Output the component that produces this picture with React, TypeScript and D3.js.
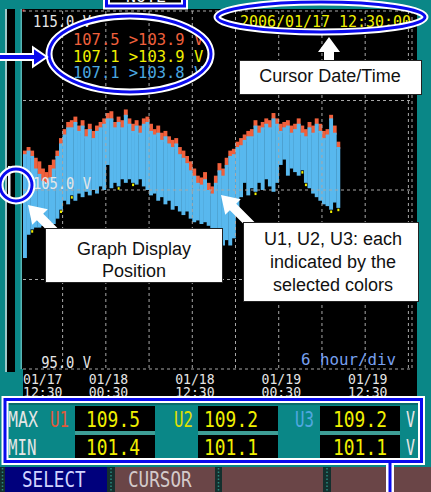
import React from 'react';
import * as d3 from 'd3';

// ---------- data ----------
const START = new Date(2006, 0, 17, 12, 30);
const END = new Date(2006, 0, 19, 18, 30);
const STEP_MINUTES = 30;
const V_MIN = 95;
const V_MAX = 115;

// U1 (red) maximum per 30-minute interval, V
const u1Max = [
  107.2, 107.4, 107.2, 106.8, 106.6, 106.2, 106.0, 106.4, 106.7, 107.2,
  107.9, 108.4, 108.8, 108.9, 109.1, 108.6, 108.9, 108.4, 108.7, 108.3,
  108.6, 108.8, 109.0, 109.3, 109.4, 108.8, 109.1, 108.9, 109.5, 109.0,
  108.7, 108.9, 108.6, 109.0, 109.1, 108.7, 108.4, 108.6, 108.2, 108.3,
  108.0, 107.8, 107.9, 107.4, 107.2, 106.9, 106.6, 106.2, 105.8, 105.7,
  106.0, 105.4, 105.2, 105.8, 106.5, 106.2, 106.8, 107.2, 107.3, 107.7,
  107.9, 108.1, 108.3, 108.4, 108.9, 108.6, 108.8, 109.0, 108.9, 109.3,
  109.0, 108.7, 108.8, 108.9, 108.6, 108.7, 109.0, 108.6, 108.4, 108.8,
  108.6, 109.0, 108.7, 108.3, 108.4, 109.2, 108.6, 107.7,
];

// U3 (blue) maximum per interval, V
const u3Max = [
  107.0, 107.2, 106.9, 106.2, 105.9, 105.5, 105.4, 105.7, 106.2, 106.9,
  107.6, 108.1, 108.5, 108.5, 108.8, 108.3, 108.6, 108.0, 108.4, 107.9,
  108.3, 108.5, 108.7, 109.0, 109.0, 108.5, 108.8, 108.5, 109.2, 108.7,
  108.3, 108.6, 108.2, 108.7, 108.8, 108.3, 108.1, 108.2, 107.8, 108.0,
  107.6, 107.4, 107.6, 107.0, 106.8, 106.5, 106.1, 105.8, 105.4, 105.3,
  105.6, 105.0, 104.8, 105.4, 106.1, 105.8, 106.4, 106.9, 107.0, 107.4,
  107.5, 107.8, 108.0, 108.0, 108.6, 108.2, 108.5, 108.7, 108.5, 109.0,
  108.7, 108.3, 108.5, 108.6, 108.2, 108.4, 108.7, 108.2, 108.0, 108.5,
  108.2, 108.7, 108.3, 107.9, 108.1, 109.0, 108.2, 107.4,
];

// U3 (blue) minimum per interval, V
const u3Min = [
  101.2, 102.5, 102.8, 102.9, 102.9, 103.0, 102.9, 103.2, 103.1, 103.4,
  103.9, 104.4, 104.2, 104.7, 104.4, 104.8, 104.6, 104.9, 104.7, 105.0,
  104.8, 105.2, 105.0, 106.4, 105.1, 105.4, 105.2, 105.6, 105.4, 105.6,
  105.4, 105.3, 105.6, 105.2, 105.0, 104.7, 104.8, 104.4, 104.6, 104.2,
  104.4, 103.9, 104.1, 103.8, 103.6, 103.8, 103.4, 103.2, 103.3, 103.1,
  103.2, 103.0, 102.8, 102.3, 102.1, 101.9, 102.2, 101.9, 102.3, 103.6,
  104.6, 105.4, 104.7, 105.1, 104.9, 105.4, 105.0, 105.6, 105.2, 104.9,
  105.4, 106.4, 106.7, 105.8, 106.2, 106.0, 105.8, 106.1, 105.4, 105.1,
  104.8, 104.6, 104.4, 104.2, 104.1, 103.9, 104.3, 104.0,
];

// U2 (yellow) minima visible below the blue band: [interval index, V]
const u2Dots: [number, number][] = [
  [2, 102.7], [10, 103.8], [13, 104.6], [26, 105.1], [30, 105.3],
  [52, 102.7], [64, 104.8], [77, 106.0], [78, 105.3], [85, 103.8], [87, 103.9],
];

const yGridValues = [100, 105, 110];
const yLabelValues = [115, 105, 95];
const yLabels = ['115.0 V', '105.0 V', '95.0 V'];
const xLabelHours = [0, 12, 24, 36, 48];
const xLabels = [
  ['01/17', '12:30'],
  ['01/18', '00:30'],
  ['01/18', '12:30'],
  ['01/19', '00:30'],
  ['01/19', '12:30'],
];
const readoutTexts = ['107.5 >103.9 V', '107.1 >103.9 V', '107.1 >103.8 V'];
const cursorText = '2006/01/17 12:30:00';
const scaleText = '6 hour/div';
const channels = ['U1', 'U2', 'U3'];
const maxValues = ['109.5', '109.2', '109.2'];
const minValues = ['101.4', '101.1', '101.1'];
const buttonLabels = ['SELECT', 'CURSOR', '', ''];

// ---------- styles ----------
const TEAL = '#0a8787';
const C_RED = '#f0603c';
const C_YEL = '#f0f000';
const C_BLUE = '#58b8ee';
const C_WHITE = '#e6e6e6';
const MONO = 'DejaVu Sans Mono';
const SANS = 'Liberation Sans, Arial, sans-serif';

function Mono({ x, y, text, fill, size, pitch, anchor = 'start' }: any) {
  return (
    <text x={x} y={y} fill={fill} fontFamily={MONO} fontSize={size}
      textAnchor={anchor} textLength={text.length * pitch} lengthAdjust="spacingAndGlyphs">
      {text}
    </text>
  );
}

function arrowPoints(tail: [number, number], tip: [number, number], headLen: number, headHalf: number, shaftHalf: number) {
  const dx = tip[0] - tail[0], dy = tip[1] - tail[1];
  const len = Math.hypot(dx, dy);
  const ux = dx / len, uy = dy / len;
  const nx = -uy, ny = ux;
  const bx = tip[0] - ux * headLen, by = tip[1] - uy * headLen;
  const pts = [
    [tail[0] + nx * shaftHalf, tail[1] + ny * shaftHalf],
    [bx + nx * shaftHalf, by + ny * shaftHalf],
    [bx + nx * headHalf, by + ny * headHalf],
    [tip[0], tip[1]],
    [bx - nx * headHalf, by - ny * headHalf],
    [bx - nx * shaftHalf, by - ny * shaftHalf],
    [tail[0] - nx * shaftHalf, tail[1] - ny * shaftHalf],
  ];
  return pts.map(p => p.join(',')).join(' ');
}

function Ellipse({ cx, cy, rx, ry }: any) {
  return (
    <g fill="none">
      <ellipse cx={cx} cy={cy} rx={rx} ry={ry} stroke="#fff" strokeWidth={7} />
      <ellipse cx={cx} cy={cy} rx={rx} ry={ry} stroke="#0a0aee" strokeWidth={3} />
    </g>
  );
}

export default function App() {
  const W = 431, H = 492;
  const x = d3.scaleTime().domain([START, END]).range([23, 412]);
  const y = d3.scaleLinear().domain([V_MIN, V_MAX]).range([369, 11]);
  const n = Math.min(u1Max.length, u3Max.length, u3Min.length);
  const tAt = (i: number) => d3.timeMinute.offset(START, i * STEP_MINUTES);
  const vGrid = d3.timeHour.every(6)!.range(d3.timeMinute.offset(START, 1), END);

  const cellCols = [[75, 155], [198, 278], [320, 400]];
  const valueX = [86, 204, 333];
  const chanX = [50, 174, 295];
  const chanColor = ['#e05a3a', '#e0e000', '#50a8e0'];
  const buttons = [[5, 107, '#00007c', '#d0d4ff'], [115, 215, '#6a4547', '#d4caca'], [222, 323, '#6a4547', '#d4caca'], [331, 431, '#6a4547', '#d4caca']];

  return (
    <svg width={W} height={H} style={{ position: 'fixed', left: 0, top: 0, display: 'block' }}>
      <rect x={0} y={0} width={W} height={H} fill={TEAL} />
      {/* scroll bar */}
      <rect x={5} y={9} width={2} height={363} fill="#9cc8c8" />
      <rect x={7} y={9} width={8} height={363} fill="#000" />
      <rect x={8} y={166} width={2.5} height={31} fill="#f4f4f4" />
      <rect x={20.5} y={9} width={1.5} height={360} fill="#58b4b4" />
      {/* screen black area */}
      <rect x={22} y={9} width={395} height={390} fill="#000" />
      <rect x={22} y={369} width={1} height={30} fill={TEAL} />

      {/* data bars: U1 (red) under, U2 dots, U3 (blue) on top */}
      <g>
        {d3.range(n).map(i => {
          const x0 = x(tAt(i)), x1 = x(tAt(i + 1));
          return <rect key={'r' + i} x={x0} width={x1 - x0 + 0.3} y={y(u1Max[i])} height={y(u3Max[i]) - y(u1Max[i]) + 2} fill={C_RED} />;
        })}
        {u2Dots.map(([i, v]) => (
          <rect key={'y' + i} x={x(tAt(i)) + 1} width={2} y={y(v) - 1} height={2.5} fill={C_YEL} />
        ))}
        {d3.range(n).map(i => {
          const x0 = x(tAt(i)), x1 = x(tAt(i + 1));
          return <rect key={'b' + i} x={x0} width={x1 - x0 + 0.3} y={y(u3Max[i])} height={y(u3Min[i]) - y(u3Max[i])} fill={C_BLUE} />;
        })}
      </g>
      <rect x={22.5} y={9.5} width={2} height={2} fill="#ff3030" />

      {/* grid */}
      <g stroke="#a8a8a8" strokeWidth={1} strokeDasharray="3,3" fill="none">
        {vGrid.map((t, i) => <line key={'v' + i} x1={x(t)} x2={x(t)} y1={y(V_MAX)} y2={y(V_MIN)} />)}
        <line x1={x(END)} x2={x(END)} y1={y(V_MAX)} y2={y(V_MIN)} />
        {yGridValues.map(v => <line key={'h' + v} x1={x(START)} x2={x(END)} y1={y(v)} y2={y(v)} />)}
        <line x1={x(START)} x2={x(END)} y1={y(V_MAX)} y2={y(V_MAX)} />
        <line x1={x(START)} x2={x(END)} y1={y(V_MIN)} y2={y(V_MIN)} />
      </g>

      {/* axis labels */}
      {yLabelValues.map((v, i) => (
        <Mono key={'yl' + i} x={91} y={Math.max(y(v) - 1, 27)} text={yLabels[i]} fill={C_WHITE} size={15} pitch={8.3} anchor="end" />
      ))}
      <Mono x={396} y={365} text={scaleText} fill="#78a0f0" size={15} pitch={9.5} anchor="end" />
      {xLabelHours.map((h, i) => {
        const t = d3.timeHour.offset(START, h);
        const first = i === 0;
        return (
          <g key={'xl' + i}>
            <Mono x={first ? x(t) : x(t) - 1} y={384} text={xLabels[i][0]} fill={C_WHITE} size={14} pitch={7.9} anchor={first ? 'start' : 'middle'} />
            <Mono x={first ? x(t) : x(t) - 1} y={397} text={xLabels[i][1]} fill={C_WHITE} size={14} pitch={7.9} anchor={first ? 'start' : 'middle'} />
          </g>
        );
      })}

      {/* readouts */}
      {readoutTexts.map((s, i) => (
        <Mono key={'ro' + i} x={73} y={45 + i * 16.5} text={s} fill={[C_RED, C_YEL, '#4aa8e0'][i]} size={16} pitch={9.3} />
      ))}
      <Mono x={240} y={27} text={cursorText} fill={C_YEL} size={16} pitch={9.0} />

      {/* table */}
      <rect x={7} y={402} width={412} height={3} fill="#066c6c" />
      {cellCols.map(([a, b], i) => (
        <g key={'cell' + i}>
          <rect x={a} y={431} width={b - a} height={4} fill="#3e9e96" />
          <rect x={a} y={406} width={b - a} height={25} fill="#000" />
          <rect x={a} y={435} width={b - a} height={23} fill="#000" />
          <Mono x={valueX[i]} y={427} text={maxValues[i]} fill={C_YEL} size={22} pitch={10.8} />
          <Mono x={valueX[i]} y={455} text={minValues[i]} fill={C_YEL} size={22} pitch={10.8} />
          <Mono x={chanX[i]} y={427} text={channels[i]} fill={chanColor[i]} size={22} pitch={9.5} />
        </g>
      ))}
      <Mono x={8} y={427} text="MAX" fill={C_WHITE} size={22} pitch={10} />
      <Mono x={8} y={455} text="MIN" fill={C_WHITE} size={22} pitch={9.5} />
      <Mono x={406} y={427} text="V" fill={C_WHITE} size={22} pitch={9} />
      <Mono x={406} y={455} text="V" fill={C_WHITE} size={22} pitch={9} />

      {/* buttons */}
      <rect x={0} y={467} width={W} height={25} fill="#14302e" />
      {buttons.map(([a, b, bg], i) => (
        <rect key={'btn' + i} x={a as number} y={467} width={(b as number) - (a as number)} height={25} fill={bg as string} />
      ))}
      {[2.5, 111, 218.5, 327].map((sx, i) => (
        <line key={'sep' + i} x1={sx} x2={sx} y1={468} y2={492} stroke="#2a8a80" strokeWidth={1.5} strokeDasharray="1.5,2" />
      ))}
      {buttonLabels.map((s, i) => s ? (
        <Mono key={'bl' + i} x={[22, 128][i]} y={487} text={s} fill={buttons[i][3]} size={22} pitch={10.6} />
      ) : null)}

      {/* top small box */}
      <rect x={106.5} y={-12} width={78} height={18} fill="#000" stroke="#fff" strokeWidth={7} />
      <rect x={106.5} y={-12} width={78} height={18} fill="none" stroke="#0a0aee" strokeWidth={3} />
      <Mono x={146} y={1.5} text="NOTE" fill="#fff" size={16} pitch={10} anchor="middle" />

      {/* annotation: table frame */}
      <line x1={390} x2={390} y1={462} y2={492} stroke="#fff" strokeWidth={8} />
      <rect x={5} y={399.5} width={416.5} height={62} fill="none" stroke="#fff" strokeWidth={7} />
      <rect x={5} y={399.5} width={416.5} height={62} fill="none" stroke="#0a0aee" strokeWidth={3} />
      <line x1={390} x2={390} y1={463} y2={492} stroke="#0a0aee" strokeWidth={3} />

      {/* ellipses */}
      <Ellipse cx={130} cy={54} rx={81} ry={38} />
      <Ellipse cx={321} cy={17} rx={104} ry={15} />
      <Ellipse cx={16} cy={185} rx={16} ry={16} />

      {/* arrows */}
      <polygon points={arrowPoints([-4, 57], [47, 57], 14, 9.5, 3)} fill="#0a0aee" stroke="#fff" strokeWidth={2} strokeLinejoin="miter" />
      <polygon points={arrowPoints([329, 62], [329, 37], 15, 11, 5)} fill="#fff" />
      <polygon points={arrowPoints([58, 235], [28, 205], 17, 11, 4.5)} fill="#fff" />
      <polygon points={arrowPoints([254, 228], [221, 195], 17, 11, 4.5)} fill="#fff" />

      {/* annotation boxes */}
      <rect x={239.5} y={60.5} width={182} height={34} fill="#fff" stroke="#222" strokeWidth={1} />
      <text x={330} y={82} fontFamily={SANS} fontSize={18} textAnchor="middle" fill="#111">Cursor Date/Time</text>

      <rect x={45.5} y={228.5} width={177} height={54} fill="#fff" stroke="#222" strokeWidth={1} />
      <text x={134} y={255} fontFamily={SANS} fontSize={18} textAnchor="middle" fill="#111">Graph Display</text>
      <text x={134} y={277} fontFamily={SANS} fontSize={18} textAnchor="middle" fill="#111">Position</text>

      <rect x={243.5} y={222.5} width={175} height={79} fill="#fff" stroke="#222" strokeWidth={1} />
      <text x={333} y={245} fontFamily={SANS} fontSize={18} textAnchor="middle" fill="#111">U1, U2, U3: each</text>
      <text x={333} y={268} fontFamily={SANS} fontSize={18} textAnchor="middle" fill="#111">indicated by the</text>
      <text x={333} y={291} fontFamily={SANS} fontSize={18} textAnchor="middle" fill="#111">selected colors</text>
    </svg>
  );
}
